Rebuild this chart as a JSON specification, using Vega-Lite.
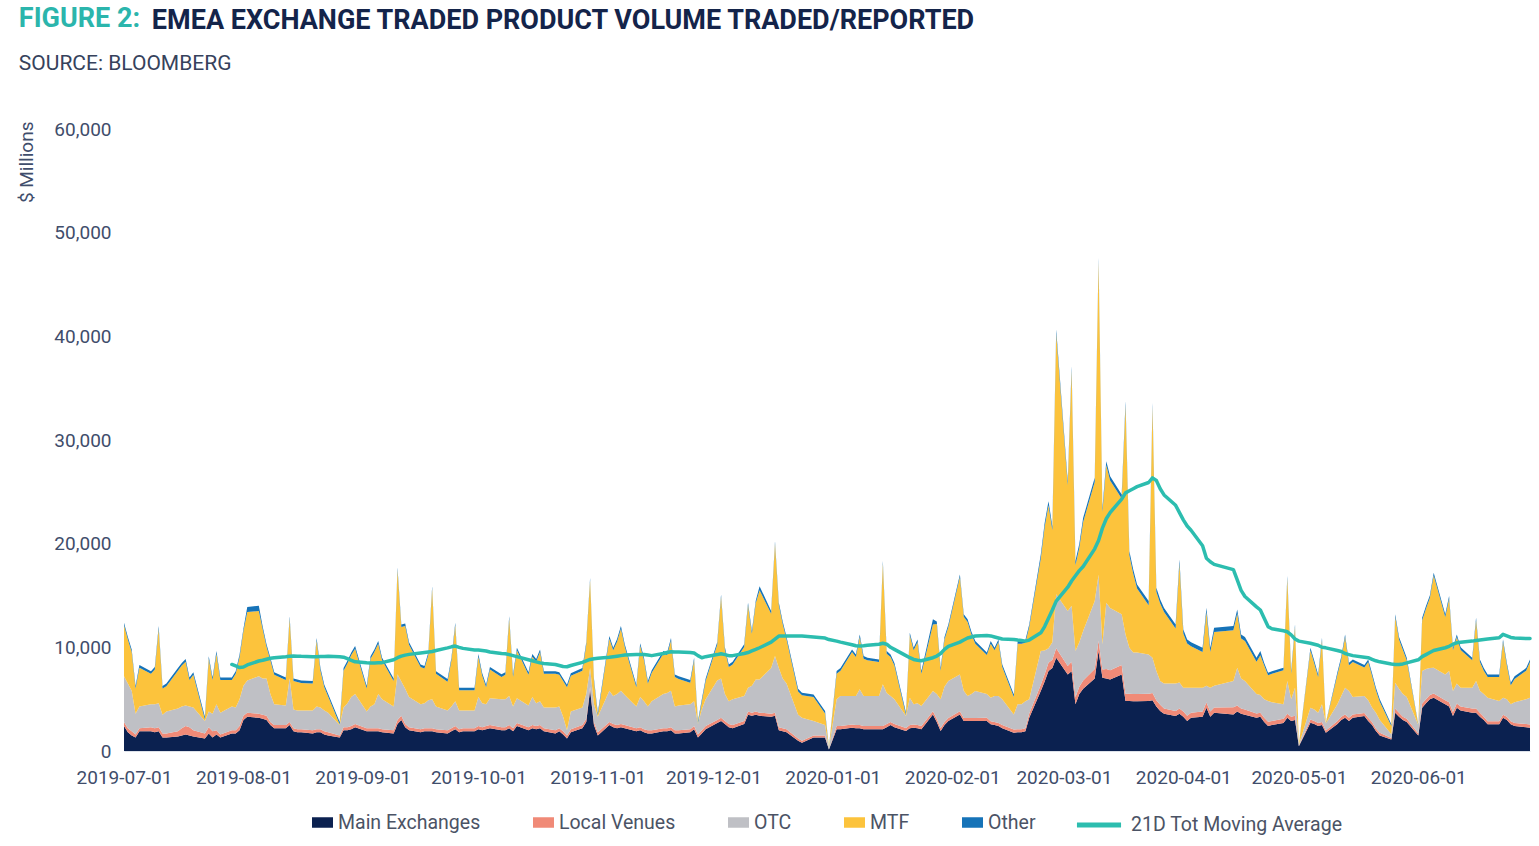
{
  "$schema": "https://vega.github.io/schema/vega-lite/v6.json",
  "autosize": {"type": "pad"},
  "padding": {"left": 17, "top": 5, "right": 5, "bottom": 5},
  "background": "white",
  "title": {
    "text": "FIGURE 2:",
    "subtitle": "SOURCE: BLOOMBERG",
    "anchor": "start",
    "frame": "bounds",
    "font": "Roboto",
    "fontSize": 27,
    "fontWeight": "bold",
    "color": "#2bb5ac",
    "subtitleFont": "Roboto",
    "subtitleFontSize": 21,
    "subtitleFontWeight": "normal",
    "subtitleColor": "#36425c",
    "subtitlePadding": 20,
    "offset": 10,
    "dx": 1,
    "dy": 78
  },
  "datasets": {
    "v": [
      {"d":"2019-07-01","s1":2400,"s2":400,"s3":4400,"s4":4920,"s5":250},
      {"d":"2019-07-02","s1":1800,"s2":400,"s3":4300,"s4":4250,"s5":250},
      {"d":"2019-07-03","s1":1500,"s2":400,"s3":3900,"s4":3750,"s5":250},
      {"d":"2019-07-04","s1":1300,"s2":300,"s3":2000,"s4":2420,"s5":250},
      {"d":"2019-07-05","s1":1900,"s2":300,"s3":2100,"s4":3740,"s5":250},
      {"d":"2019-07-08","s1":1900,"s2":400,"s3":2200,"s4":2950,"s5":250},
      {"d":"2019-07-09","s1":1800,"s2":400,"s3":2300,"s4":3350,"s5":250},
      {"d":"2019-07-10","s1":1900,"s2":400,"s3":2300,"s4":7200,"s5":250},
      {"d":"2019-07-11","s1":1300,"s2":400,"s3":1800,"s4":2520,"s5":250},
      {"d":"2019-07-12","s1":1300,"s2":400,"s3":2100,"s4":2450,"s5":250},
      {"d":"2019-07-15","s1":1400,"s2":500,"s3":2200,"s4":3650,"s5":250},
      {"d":"2019-07-16","s1":1500,"s2":700,"s3":2100,"s4":3950,"s5":250},
      {"d":"2019-07-17","s1":1600,"s2":800,"s3":2000,"s4":4220,"s5":250},
      {"d":"2019-07-18","s1":1500,"s2":800,"s3":2000,"s4":2550,"s5":250},
      {"d":"2019-07-19","s1":1400,"s2":600,"s3":2200,"s4":3150,"s5":250},
      {"d":"2019-07-22","s1":1200,"s2":500,"s3":1200,"s4":150,"s5":250},
      {"d":"2019-07-23","s1":1700,"s2":600,"s3":1500,"s4":5100,"s5":250},
      {"d":"2019-07-24","s1":1300,"s2":600,"s3":1700,"s4":3250,"s5":250},
      {"d":"2019-07-25","s1":1600,"s2":400,"s3":2500,"s4":4890,"s5":250},
      {"d":"2019-07-26","s1":1300,"s2":300,"s3":2100,"s4":3150,"s5":250},
      {"d":"2019-07-29","s1":1700,"s2":300,"s3":2300,"s4":2550,"s5":250,"ma":8350},
      {"d":"2019-07-30","s1":1700,"s2":300,"s3":2200,"s4":3250,"s5":250,"ma":8200},
      {"d":"2019-07-31","s1":2000,"s2":400,"s3":2600,"s4":4050,"s5":250,"ma":8050},
      {"d":"2019-08-01","s1":3000,"s2":400,"s3":2900,"s4":5250,"s5":250,"ma":8100},
      {"d":"2019-08-02","s1":3300,"s2":400,"s3":3100,"s4":6600,"s5":500,"ma":8300},
      {"d":"2019-08-05","s1":3200,"s2":400,"s3":3600,"s4":6300,"s5":500,"ma":8680},
      {"d":"2019-08-06","s1":3100,"s2":400,"s3":3500,"s4":4750,"s5":250,"ma":8750},
      {"d":"2019-08-07","s1":3000,"s2":400,"s3":3600,"s4":3050,"s5":250,"ma":8850},
      {"d":"2019-08-08","s1":2500,"s2":300,"s3":2700,"s4":3250,"s5":250,"ma":8950},
      {"d":"2019-08-09","s1":2200,"s2":300,"s3":2000,"s4":2850,"s5":250,"ma":9000},
      {"d":"2019-08-12","s1":2200,"s2":300,"s3":1900,"s4":2450,"s5":250,"ma":9100},
      {"d":"2019-08-13","s1":2500,"s2":300,"s3":4200,"s4":5750,"s5":250,"ma":9150},
      {"d":"2019-08-14","s1":1900,"s2":300,"s3":1800,"s4":2750,"s5":250,"ma":9160},
      {"d":"2019-08-15","s1":1800,"s2":300,"s3":1800,"s4":2750,"s5":250,"ma":9150},
      {"d":"2019-08-16","s1":1800,"s2":300,"s3":1800,"s4":2650,"s5":250,"ma":9130},
      {"d":"2019-08-19","s1":1700,"s2":300,"s3":1900,"s4":2600,"s5":250,"ma":9100},
      {"d":"2019-08-20","s1":1800,"s2":300,"s3":2200,"s4":6350,"s5":250,"ma":9100},
      {"d":"2019-08-21","s1":1800,"s2":300,"s3":2100,"s4":3550,"s5":250,"ma":9110},
      {"d":"2019-08-22","s1":1600,"s2":300,"s3":2000,"s4":2250,"s5":250,"ma":9120},
      {"d":"2019-08-23","s1":1500,"s2":300,"s3":1900,"s4":1550,"s5":250,"ma":9130},
      {"d":"2019-08-26","s1":1300,"s2":200,"s3":1000,"s4":50,"s5":250,"ma":9100},
      {"d":"2019-08-27","s1":2000,"s2":300,"s3":1900,"s4":3550,"s5":250,"ma":9050},
      {"d":"2019-08-28","s1":2000,"s2":300,"s3":2300,"s4":3850,"s5":250,"ma":8900},
      {"d":"2019-08-29","s1":2100,"s2":300,"s3":2800,"s4":4050,"s5":250,"ma":8750},
      {"d":"2019-08-30","s1":2300,"s2":300,"s3":2900,"s4":4370,"s5":250,"ma":8600},
      {"d":"2019-09-02","s1":1900,"s2":300,"s3":1600,"s4":2220,"s5":250,"ma":8510},
      {"d":"2019-09-03","s1":1900,"s2":300,"s3":2100,"s4":4600,"s5":250,"ma":8500},
      {"d":"2019-09-04","s1":1900,"s2":300,"s3":2300,"s4":5050,"s5":250,"ma":8500},
      {"d":"2019-09-05","s1":1900,"s2":300,"s3":3300,"s4":4850,"s5":250,"ma":8510},
      {"d":"2019-09-06","s1":1800,"s2":300,"s3":2900,"s4":3750,"s5":250,"ma":8520},
      {"d":"2019-09-09","s1":1700,"s2":300,"s3":2300,"s4":2450,"s5":250,"ma":8800},
      {"d":"2019-09-10","s1":2600,"s2":400,"s3":4400,"s4":10050,"s5":250,"ma":9000},
      {"d":"2019-09-11","s1":3000,"s2":400,"s3":3300,"s4":5250,"s5":250,"ma":9150},
      {"d":"2019-09-12","s1":2300,"s2":300,"s3":3400,"s4":6050,"s5":250,"ma":9250},
      {"d":"2019-09-13","s1":2000,"s2":300,"s3":2900,"s4":5050,"s5":250,"ma":9320},
      {"d":"2019-09-16","s1":1800,"s2":300,"s3":2400,"s4":3600,"s5":250,"ma":9450},
      {"d":"2019-09-17","s1":1900,"s2":300,"s3":2400,"s4":3350,"s5":250,"ma":9500},
      {"d":"2019-09-18","s1":1900,"s2":300,"s3":2700,"s4":4350,"s5":250,"ma":9550},
      {"d":"2019-09-19","s1":1900,"s2":300,"s3":2800,"s4":10650,"s5":250,"ma":9600},
      {"d":"2019-09-20","s1":1800,"s2":300,"s3":2200,"s4":3150,"s5":250,"ma":9700},
      {"d":"2019-09-23","s1":1700,"s2":300,"s3":1900,"s4":2790,"s5":250,"ma":9950},
      {"d":"2019-09-24","s1":1900,"s2":300,"s3":2100,"s4":4450,"s5":250,"ma":10050},
      {"d":"2019-09-25","s1":2100,"s2":300,"s3":2400,"s4":7320,"s5":250,"ma":10120},
      {"d":"2019-09-26","s1":1800,"s2":300,"s3":1800,"s4":1950,"s5":250,"ma":10000},
      {"d":"2019-09-27","s1":1900,"s2":300,"s3":1700,"s4":1950,"s5":250,"ma":9900},
      {"d":"2019-09-30","s1":1900,"s2":300,"s3":1700,"s4":1950,"s5":250,"ma":9750},
      {"d":"2019-10-01","s1":2100,"s2":300,"s3":2800,"s4":3900,"s5":250,"ma":9750},
      {"d":"2019-10-02","s1":2000,"s2":300,"s3":2300,"s4":2650,"s5":250,"ma":9700},
      {"d":"2019-10-03","s1":2100,"s2":300,"s3":2100,"s4":1650,"s5":250,"ma":9650},
      {"d":"2019-10-04","s1":2200,"s2":300,"s3":2600,"s4":2750,"s5":250,"ma":9550},
      {"d":"2019-10-07","s1":2000,"s2":300,"s3":2700,"s4":2150,"s5":250,"ma":9400},
      {"d":"2019-10-08","s1":2000,"s2":300,"s3":2700,"s4":2350,"s5":250,"ma":9380},
      {"d":"2019-10-09","s1":2200,"s2":300,"s3":2800,"s4":7450,"s5":250,"ma":9300},
      {"d":"2019-10-10","s1":1900,"s2":300,"s3":2100,"s4":2850,"s5":250,"ma":9200},
      {"d":"2019-10-11","s1":2400,"s2":300,"s3":2400,"s4":4610,"s5":250,"ma":9100},
      {"d":"2019-10-14","s1":2000,"s2":300,"s3":2100,"s4":2950,"s5":250,"ma":8800},
      {"d":"2019-10-15","s1":2200,"s2":300,"s3":2700,"s4":3900,"s5":250,"ma":8700},
      {"d":"2019-10-16","s1":2100,"s2":300,"s3":2200,"s4":4020,"s5":250,"ma":8600},
      {"d":"2019-10-17","s1":2200,"s2":300,"s3":2300,"s4":4750,"s5":250,"ma":8500},
      {"d":"2019-10-18","s1":1900,"s2":300,"s3":2000,"s4":3250,"s5":250,"ma":8450},
      {"d":"2019-10-21","s1":1700,"s2":300,"s3":2200,"s4":3250,"s5":250,"ma":8350},
      {"d":"2019-10-22","s1":1900,"s2":300,"s3":2100,"s4":3050,"s5":250,"ma":8250},
      {"d":"2019-10-23","s1":1600,"s2":300,"s3":1400,"s4":3450,"s5":250,"ma":8150},
      {"d":"2019-10-24","s1":1200,"s2":300,"s3":500,"s4":4150,"s5":250,"ma":8130},
      {"d":"2019-10-25","s1":1800,"s2":300,"s3":1700,"s4":3450,"s5":250,"ma":8250},
      {"d":"2019-10-28","s1":2200,"s2":300,"s3":1700,"s4":3550,"s5":250,"ma":8550},
      {"d":"2019-10-29","s1":2800,"s2":300,"s3":2400,"s4":4750,"s5":250,"ma":8700},
      {"d":"2019-10-30","s1":5900,"s2":300,"s3":1800,"s4":8450,"s5":250,"ma":8830},
      {"d":"2019-10-31","s1":2500,"s2":300,"s3":1700,"s4":2250,"s5":250,"ma":8900},
      {"d":"2019-11-01","s1":1500,"s2":300,"s3":1500,"s4":150,"s5":250,"ma":8950},
      {"d":"2019-11-04","s1":2500,"s2":300,"s3":3000,"s4":5040,"s5":250,"ma":9050},
      {"d":"2019-11-05","s1":2300,"s2":300,"s3":2700,"s4":4410,"s5":250,"ma":9100},
      {"d":"2019-11-06","s1":2200,"s2":300,"s3":3000,"s4":5050,"s5":250,"ma":9150},
      {"d":"2019-11-07","s1":2300,"s2":300,"s3":3200,"s4":6000,"s5":250,"ma":9200},
      {"d":"2019-11-08","s1":2200,"s2":300,"s3":2900,"s4":4650,"s5":250,"ma":9250},
      {"d":"2019-11-11","s1":1900,"s2":300,"s3":2100,"s4":1850,"s5":250,"ma":9300},
      {"d":"2019-11-12","s1":2000,"s2":300,"s3":2900,"s4":4950,"s5":250,"ma":9320},
      {"d":"2019-11-13","s1":1800,"s2":300,"s3":2700,"s4":3950,"s5":250,"ma":9300},
      {"d":"2019-11-14","s1":1700,"s2":300,"s3":2300,"s4":2200,"s5":250,"ma":9250},
      {"d":"2019-11-15","s1":1700,"s2":300,"s3":2800,"s4":2750,"s5":250,"ma":9200},
      {"d":"2019-11-18","s1":1900,"s2":300,"s3":3300,"s4":3890,"s5":250,"ma":9400},
      {"d":"2019-11-19","s1":1900,"s2":300,"s3":3400,"s4":3650,"s5":250,"ma":9500},
      {"d":"2019-11-20","s1":2000,"s2":300,"s3":3500,"s4":4850,"s5":250,"ma":9570},
      {"d":"2019-11-21","s1":1700,"s2":300,"s3":2300,"s4":2840,"s5":250,"ma":9550},
      {"d":"2019-11-22","s1":1700,"s2":300,"s3":2400,"s4":2550,"s5":250,"ma":9550},
      {"d":"2019-11-25","s1":1800,"s2":300,"s3":2400,"s4":2090,"s5":250,"ma":9500},
      {"d":"2019-11-26","s1":2100,"s2":300,"s3":2400,"s4":3950,"s5":250,"ma":9450},
      {"d":"2019-11-27","s1":1300,"s2":300,"s3":1000,"s4":50,"s5":250,"ma":9200},
      {"d":"2019-11-28","s1":1700,"s2":300,"s3":2000,"s4":750,"s5":250,"ma":9000},
      {"d":"2019-11-29","s1":2100,"s2":300,"s3":2600,"s4":1750,"s5":250,"ma":9100},
      {"d":"2019-12-02","s1":2700,"s2":300,"s3":3800,"s4":3450,"s5":250,"ma":9300},
      {"d":"2019-12-03","s1":2900,"s2":300,"s3":3800,"s4":7850,"s5":250,"ma":9380},
      {"d":"2019-12-04","s1":2600,"s2":300,"s3":2600,"s4":4250,"s5":250,"ma":9300},
      {"d":"2019-12-05","s1":2300,"s2":300,"s3":2200,"s4":3300,"s5":250,"ma":9200},
      {"d":"2019-12-06","s1":2200,"s2":300,"s3":2500,"s4":3350,"s5":250,"ma":9200},
      {"d":"2019-12-09","s1":2600,"s2":300,"s3":2400,"s4":4740,"s5":250,"ma":9400},
      {"d":"2019-12-10","s1":3500,"s2":300,"s3":2300,"s4":7950,"s5":250,"ma":9500},
      {"d":"2019-12-11","s1":3400,"s2":300,"s3":2600,"s4":5020,"s5":250,"ma":9650},
      {"d":"2019-12-12","s1":3500,"s2":300,"s3":3100,"s4":7350,"s5":250,"ma":9800},
      {"d":"2019-12-13","s1":3400,"s2":300,"s3":3200,"s4":8600,"s5":400,"ma":9960},
      {"d":"2019-12-16","s1":3300,"s2":300,"s3":4400,"s4":5250,"s5":250,"ma":10500},
      {"d":"2019-12-17","s1":3400,"s2":300,"s3":5460,"s4":10830,"s5":250,"ma":10800},
      {"d":"2019-12-18","s1":2000,"s2":300,"s3":5700,"s4":6050,"s5":250,"ma":11090},
      {"d":"2019-12-19","s1":1900,"s2":300,"s3":4800,"s4":5250,"s5":250,"ma":11090},
      {"d":"2019-12-20","s1":1800,"s2":300,"s3":4400,"s4":4250,"s5":250,"ma":11100},
      {"d":"2019-12-23","s1":1000,"s2":200,"s3":2300,"s4":2250,"s5":250,"ma":11100},
      {"d":"2019-12-24","s1":800,"s2":200,"s3":2200,"s4":2170,"s5":250,"ma":11090},
      {"d":"2019-12-27","s1":1300,"s2":200,"s3":1400,"s4":2310,"s5":250,"ma":11000},
      {"d":"2019-12-30","s1":1300,"s2":200,"s3":1000,"s4":1110,"s5":250,"ma":10900},
      {"d":"2019-12-31","s1":150,"s2":20,"s3":150,"s4":30,"s5":50,"ma":10750},
      {"d":"2020-01-02","s1":2100,"s2":300,"s3":2600,"s4":2460,"s5":250,"ma":10600},
      {"d":"2020-01-03","s1":2100,"s2":300,"s3":2900,"s4":2450,"s5":250,"ma":10500},
      {"d":"2020-01-06","s1":2250,"s2":300,"s3":2750,"s4":4250,"s5":250,"ma":10250},
      {"d":"2020-01-07","s1":2200,"s2":300,"s3":2800,"s4":3770,"s5":250,"ma":10150},
      {"d":"2020-01-08","s1":2200,"s2":300,"s3":3460,"s4":5040,"s5":250,"ma":10120},
      {"d":"2020-01-09","s1":2100,"s2":300,"s3":2900,"s4":3610,"s5":250,"ma":10150},
      {"d":"2020-01-10","s1":2100,"s2":300,"s3":2900,"s4":3450,"s5":250,"ma":10200},
      {"d":"2020-01-13","s1":2100,"s2":300,"s3":2900,"s4":3280,"s5":250,"ma":10300},
      {"d":"2020-01-14","s1":2100,"s2":300,"s3":4050,"s4":11620,"s5":250,"ma":10400},
      {"d":"2020-01-15","s1":2300,"s2":300,"s3":3000,"s4":3790,"s5":250,"ma":10300},
      {"d":"2020-01-16","s1":2500,"s2":300,"s3":2500,"s4":3770,"s5":250,"ma":10000},
      {"d":"2020-01-17","s1":2300,"s2":300,"s3":2400,"s4":3250,"s5":250,"ma":9800},
      {"d":"2020-01-20","s1":1930,"s2":300,"s3":1140,"s4":100,"s5":250,"ma":9200},
      {"d":"2020-01-21","s1":2200,"s2":300,"s3":2640,"s4":6020,"s5":250,"ma":9000},
      {"d":"2020-01-22","s1":2250,"s2":300,"s3":1950,"s4":5210,"s5":250,"ma":8830},
      {"d":"2020-01-23","s1":2200,"s2":300,"s3":2100,"s4":5910,"s5":250,"ma":8750},
      {"d":"2020-01-24","s1":2100,"s2":300,"s3":1940,"s4":3120,"s5":250,"ma":8700},
      {"d":"2020-01-27","s1":3530,"s2":300,"s3":1950,"s4":6420,"s5":500,"ma":9000},
      {"d":"2020-01-28","s1":2800,"s2":300,"s3":2400,"s4":6750,"s5":250,"ma":9160},
      {"d":"2020-01-29","s1":1930,"s2":300,"s3":2770,"s4":2750,"s5":250,"ma":9400},
      {"d":"2020-01-30","s1":2500,"s2":300,"s3":3400,"s4":4550,"s5":250,"ma":9800},
      {"d":"2020-01-31","s1":2890,"s2":300,"s3":3560,"s4":5210,"s5":250,"ma":10100},
      {"d":"2020-02-03","s1":3530,"s2":300,"s3":3560,"s4":9390,"s5":250,"ma":10500},
      {"d":"2020-02-04","s1":2890,"s2":300,"s3":2610,"s4":7150,"s5":250,"ma":10700},
      {"d":"2020-02-05","s1":2890,"s2":300,"s3":2110,"s4":7150,"s5":250,"ma":10900},
      {"d":"2020-02-06","s1":2890,"s2":300,"s3":2310,"s4":5750,"s5":250,"ma":11000},
      {"d":"2020-02-07","s1":2890,"s2":300,"s3":2590,"s4":4570,"s5":250,"ma":11090},
      {"d":"2020-02-10","s1":2900,"s2":300,"s3":2300,"s4":3750,"s5":250,"ma":11150},
      {"d":"2020-02-11","s1":2570,"s2":300,"s3":2270,"s4":5210,"s5":250,"ma":11100},
      {"d":"2020-02-12","s1":2500,"s2":300,"s3":2500,"s4":4410,"s5":250,"ma":11000},
      {"d":"2020-02-13","s1":2400,"s2":300,"s3":2600,"s4":5210,"s5":250,"ma":10900},
      {"d":"2020-02-14","s1":2200,"s2":300,"s3":2500,"s4":3100,"s5":250,"ma":10800},
      {"d":"2020-02-17","s1":1770,"s2":300,"s3":1460,"s4":1680,"s5":250,"ma":10760},
      {"d":"2020-02-18","s1":1800,"s2":300,"s3":2400,"s4":5850,"s5":250,"ma":10700},
      {"d":"2020-02-19","s1":1800,"s2":300,"s3":2400,"s4":5850,"s5":250,"ma":10650},
      {"d":"2020-02-20","s1":1900,"s2":300,"s3":2600,"s4":5650,"s5":250,"ma":10600},
      {"d":"2020-02-21","s1":3210,"s2":400,"s3":1390,"s4":6960,"s5":250,"ma":10700},
      {"d":"2020-02-24","s1":5780,"s2":600,"s3":3260,"s4":8920,"s5":400,"ma":11400},
      {"d":"2020-02-25","s1":6700,"s2":700,"s3":2300,"s4":11900,"s5":400,"ma":12000},
      {"d":"2020-02-26","s1":7710,"s2":800,"s3":1390,"s4":13800,"s5":400,"ma":12800},
      {"d":"2020-02-27","s1":8000,"s2":800,"s3":1700,"s4":10790,"s5":400,"ma":13600},
      {"d":"2020-02-28","s1":9000,"s2":900,"s3":5210,"s4":25140,"s5":400,"ma":14460},
      {"d":"2020-03-02","s1":7390,"s2":800,"s3":5310,"s4":12130,"s5":400,"ma":15800},
      {"d":"2020-03-03","s1":7700,"s2":900,"s3":5400,"s4":22710,"s5":400,"ma":16400},
      {"d":"2020-03-04","s1":4500,"s2":700,"s3":4440,"s4":8280,"s5":400,"ma":16900},
      {"d":"2020-03-05","s1":5500,"s2":700,"s3":4300,"s4":9100,"s5":400,"ma":17400},
      {"d":"2020-03-06","s1":6000,"s2":800,"s3":4770,"s4":10520,"s5":400,"ma":17800},
      {"d":"2020-03-09","s1":7000,"s2":900,"s3":6560,"s4":11490,"s5":400,"ma":19500},
      {"d":"2020-03-10","s1":9640,"s2":1000,"s3":6360,"s4":30160,"s5":400,"ma":20300},
      {"d":"2020-03-11","s1":7070,"s2":800,"s3":2430,"s4":12750,"s5":400,"ma":21500},
      {"d":"2020-03-12","s1":7000,"s2":900,"s3":6400,"s4":13260,"s5":400,"ma":22400},
      {"d":"2020-03-13","s1":6900,"s2":900,"s3":6000,"s4":12300,"s5":400,"ma":23000},
      {"d":"2020-03-16","s1":7390,"s2":900,"s3":4910,"s4":11150,"s5":400,"ma":24300},
      {"d":"2020-03-17","s1":4820,"s2":700,"s3":5730,"s4":22090,"s5":400,"ma":24900},
      {"d":"2020-03-18","s1":4820,"s2":700,"s3":4440,"s4":8920,"s5":400,"ma":25100},
      {"d":"2020-03-19","s1":4800,"s2":700,"s3":4000,"s4":7600,"s5":400,"ma":25300},
      {"d":"2020-03-20","s1":4800,"s2":700,"s3":4000,"s4":6170,"s5":400,"ma":25500},
      {"d":"2020-03-23","s1":4820,"s2":700,"s3":3800,"s4":4740,"s5":400,"ma":25900},
      {"d":"2020-03-24","s1":4900,"s2":700,"s3":3400,"s4":24180,"s5":400,"ma":26350},
      {"d":"2020-03-25","s1":4300,"s2":600,"s3":2810,"s4":7640,"s5":400,"ma":26100},
      {"d":"2020-03-26","s1":3860,"s2":600,"s3":2290,"s4":7470,"s5":400,"ma":25300},
      {"d":"2020-03-27","s1":3600,"s2":500,"s3":2400,"s4":6900,"s5":400,"ma":24700},
      {"d":"2020-03-30","s1":3370,"s2":500,"s3":2630,"s4":5310,"s5":400,"ma":23700},
      {"d":"2020-03-31","s1":3600,"s2":500,"s3":2500,"s4":11480,"s5":400,"ma":23000},
      {"d":"2020-04-01","s1":3300,"s2":500,"s3":2300,"s4":5230,"s5":400,"ma":22300},
      {"d":"2020-04-02","s1":2890,"s2":500,"s3":2710,"s4":4260,"s5":400,"ma":21700},
      {"d":"2020-04-03","s1":3200,"s2":500,"s3":2400,"s4":4000,"s5":400,"ma":21300},
      {"d":"2020-04-06","s1":3300,"s2":500,"s3":2300,"s4":3460,"s5":400,"ma":19800},
      {"d":"2020-04-07","s1":4180,"s2":500,"s3":1620,"s4":7110,"s5":400,"ma":18600},
      {"d":"2020-04-08","s1":3300,"s2":500,"s3":2300,"s4":3460,"s5":400,"ma":18250},
      {"d":"2020-04-09","s1":3700,"s2":500,"s3":2100,"s4":5190,"s5":400,"ma":18000},
      {"d":"2020-04-14","s1":3530,"s2":700,"s3":2520,"s4":4900,"s5":400,"ma":17500},
      {"d":"2020-04-15","s1":3800,"s2":600,"s3":3630,"s4":5230,"s5":400,"ma":16500},
      {"d":"2020-04-16","s1":3600,"s2":500,"s3":2900,"s4":3850,"s5":400,"ma":15500},
      {"d":"2020-04-17","s1":3500,"s2":500,"s3":2750,"s4":3850,"s5":400,"ma":14900},
      {"d":"2020-04-20","s1":3210,"s2":400,"s3":1890,"s4":3100,"s5":400,"ma":13900},
      {"d":"2020-04-21","s1":3300,"s2":400,"s3":1700,"s4":3840,"s5":400,"ma":13600},
      {"d":"2020-04-22","s1":2800,"s2":400,"s3":1800,"s4":3250,"s5":250,"ma":12800},
      {"d":"2020-04-23","s1":2410,"s2":400,"s3":2010,"s4":2480,"s5":250,"ma":12000},
      {"d":"2020-04-24","s1":2500,"s2":400,"s3":1800,"s4":2750,"s5":250,"ma":11800},
      {"d":"2020-04-27","s1":2700,"s2":400,"s3":1400,"s4":3280,"s5":250,"ma":11600},
      {"d":"2020-04-28","s1":3200,"s2":400,"s3":3150,"s4":9870,"s5":250,"ma":11500},
      {"d":"2020-04-29","s1":2900,"s2":400,"s3":1700,"s4":2460,"s5":250,"ma":11200},
      {"d":"2020-04-30","s1":3000,"s2":400,"s3":2700,"s4":5860,"s5":250,"ma":10800},
      {"d":"2020-05-01","s1":450,"s2":50,"s3":100,"s4":20,"s5":20,"ma":10600},
      {"d":"2020-05-04","s1":2730,"s2":300,"s3":1150,"s4":5530,"s5":250,"ma":10400},
      {"d":"2020-05-05","s1":2600,"s2":300,"s3":1100,"s4":4450,"s5":250,"ma":10300},
      {"d":"2020-05-06","s1":2400,"s2":300,"s3":1000,"s4":3440,"s5":250,"ma":10200},
      {"d":"2020-05-07","s1":2500,"s2":300,"s3":1700,"s4":6170,"s5":250,"ma":10000},
      {"d":"2020-05-08","s1":1770,"s2":200,"s3":680,"s4":30,"s5":50,"ma":9950},
      {"d":"2020-05-11","s1":2600,"s2":300,"s3":1600,"s4":2850,"s5":250,"ma":9700},
      {"d":"2020-05-12","s1":3000,"s2":300,"s3":2000,"s4":3550,"s5":250,"ma":9600},
      {"d":"2020-05-13","s1":3210,"s2":300,"s3":2590,"s4":4900,"s5":250,"ma":9400},
      {"d":"2020-05-14","s1":2900,"s2":300,"s3":2580,"s4":2480,"s5":250,"ma":9300},
      {"d":"2020-05-15","s1":3210,"s2":300,"s3":1690,"s4":3380,"s5":250,"ma":9200},
      {"d":"2020-05-18","s1":3370,"s2":300,"s3":1630,"s4":2750,"s5":250,"ma":9050},
      {"d":"2020-05-19","s1":2900,"s2":300,"s3":1700,"s4":3680,"s5":250,"ma":9000},
      {"d":"2020-05-20","s1":2500,"s2":300,"s3":1400,"s4":3050,"s5":250,"ma":8850},
      {"d":"2020-05-21","s1":1930,"s2":250,"s3":1520,"s4":2150,"s5":250,"ma":8700},
      {"d":"2020-05-22","s1":1500,"s2":250,"s3":1250,"s4":1750,"s5":250,"ma":8600},
      {"d":"2020-05-25","s1":1100,"s2":150,"s3":360,"s4":810,"s5":150,"ma":8400},
      {"d":"2020-05-26","s1":3700,"s2":400,"s3":2490,"s4":6340,"s5":250,"ma":8350},
      {"d":"2020-05-27","s1":3300,"s2":400,"s3":2300,"s4":4750,"s5":250,"ma":8350},
      {"d":"2020-05-28","s1":3000,"s2":300,"s3":2200,"s4":4250,"s5":250,"ma":8400},
      {"d":"2020-05-29","s1":2800,"s2":300,"s3":2100,"s4":3550,"s5":250,"ma":8500},
      {"d":"2020-06-01","s1":1500,"s2":200,"s3":800,"s4":20,"s5":50,"ma":8800},
      {"d":"2020-06-02","s1":4180,"s2":400,"s3":3130,"s4":4890,"s5":250,"ma":9100},
      {"d":"2020-06-03","s1":4600,"s2":400,"s3":2900,"s4":5830,"s5":250,"ma":9300},
      {"d":"2020-06-04","s1":5000,"s2":400,"s3":2600,"s4":6750,"s5":250,"ma":9500},
      {"d":"2020-06-05","s1":5140,"s2":400,"s3":2490,"s4":8910,"s5":250,"ma":9700},
      {"d":"2020-06-08","s1":4500,"s2":400,"s3":2490,"s4":5540,"s5":250,"ma":9960},
      {"d":"2020-06-09","s1":4300,"s2":400,"s3":3010,"s4":6980,"s5":250,"ma":10100},
      {"d":"2020-06-10","s1":3370,"s2":400,"s3":2010,"s4":3930,"s5":250,"ma":10300},
      {"d":"2020-06-11","s1":4180,"s2":400,"s3":1920,"s4":4500,"s5":250,"ma":10440},
      {"d":"2020-06-12","s1":3900,"s2":400,"s3":1800,"s4":3650,"s5":250,"ma":10500},
      {"d":"2020-06-15","s1":3700,"s2":400,"s3":2000,"s4":2650,"s5":250,"ma":10600},
      {"d":"2020-06-16","s1":3700,"s2":400,"s3":2650,"s4":5850,"s5":250,"ma":10650},
      {"d":"2020-06-17","s1":3300,"s2":400,"s3":2100,"s4":2780,"s5":250,"ma":10700},
      {"d":"2020-06-18","s1":3000,"s2":300,"s3":2200,"s4":2250,"s5":250,"ma":10750},
      {"d":"2020-06-19","s1":2570,"s2":300,"s3":2270,"s4":2000,"s5":250,"ma":10800},
      {"d":"2020-06-22","s1":2570,"s2":300,"s3":1950,"s4":2320,"s5":250,"ma":10920},
      {"d":"2020-06-23","s1":3200,"s2":300,"s3":1640,"s4":5370,"s5":250,"ma":11250},
      {"d":"2020-06-24","s1":3000,"s2":300,"s3":1700,"s4":3250,"s5":250,"ma":11100},
      {"d":"2020-06-25","s1":2570,"s2":300,"s3":1630,"s4":1840,"s5":250,"ma":10950},
      {"d":"2020-06-26","s1":2400,"s2":300,"s3":2000,"s4":2250,"s5":250,"ma":10900},
      {"d":"2020-06-29","s1":2300,"s2":300,"s3":2400,"s4":2750,"s5":250,"ma":10850},
      {"d":"2020-06-30","s1":2250,"s2":300,"s3":2590,"s4":3440,"s5":250,"ma":10860}
    ]
  },
  "vconcat": [
    {
      "title": {
        "text": "EMEA EXCHANGE TRADED PRODUCT VOLUME TRADED/REPORTED",
        "anchor": "start",
        "frame": "bounds",
        "font": "Roboto",
        "fontSize": 27,
        "fontWeight": "bold",
        "color": "#14244a",
        "dx": 134,
        "offset": 85
      },
      "width": 1406,
      "height": 622,
      "data": {"name": "v"},
      "layer": [
        {
          "transform": [{"fold": ["s1", "s2", "s3", "s4", "s5"], "as": ["k", "val"]}],
          "mark": {"type": "area", "interpolate": "linear"},
          "encoding": {
            "x": {
              "field": "d",
              "type": "temporal",
              "scale": {
                "type": "utc",
                "domain": [
                  {"year": 2019, "month": 7, "date": 1, "utc": true},
                  {"year": 2020, "month": 6, "date": 30, "utc": true}
                ]
              },
              "axis": {
                "title": null,
                "format": "%Y-%m-%d",
                "values": [
                  {"year": 2019, "month": 7, "date": 1, "utc": true},
                  {"year": 2019, "month": 8, "date": 1, "utc": true},
                  {"year": 2019, "month": 9, "date": 1, "utc": true},
                  {"year": 2019, "month": 10, "date": 1, "utc": true},
                  {"year": 2019, "month": 11, "date": 1, "utc": true},
                  {"year": 2019, "month": 12, "date": 1, "utc": true},
                  {"year": 2020, "month": 1, "date": 1, "utc": true},
                  {"year": 2020, "month": 2, "date": 1, "utc": true},
                  {"year": 2020, "month": 3, "date": 1, "utc": true},
                  {"year": 2020, "month": 4, "date": 1, "utc": true},
                  {"year": 2020, "month": 5, "date": 1, "utc": true},
                  {"year": 2020, "month": 6, "date": 1, "utc": true}
                ],
                "labelFontSize": 19,
                "labelColor": "#3f4d6b",
                "labelPadding": 17,
                "labelFlush": false,
                "labelOverlap": false,
                "ticks": false,
                "grid": false,
                "domain": true,
                "domainColor": "#dde2ea",
                "domainWidth": 1
              }
            },
            "y": {
              "field": "val",
              "type": "quantitative",
              "stack": "zero",
              "scale": {"domain": [0, 60000], "nice": false},
              "axis": {
                "title": "$ Millions",
                "titleAnchor": "end",
                "titleY": -8,
                "titleFontSize": 19,
                "titleFontWeight": "normal",
                "titleColor": "#3f4d6b",
                "titlePadding": 17,
                "values": [0, 10000, 20000, 30000, 40000, 50000, 60000],
                "format": ",.0f",
                "labelFontSize": 19,
                "labelColor": "#3f4d6b",
                "labelPadding": 13,
                "ticks": false,
                "domain": false,
                "grid": false
              }
            },
            "color": {
              "field": "k",
              "type": "nominal",
              "scale": {
                "domain": ["s1", "s2", "s3", "s4", "s5"],
                "range": ["#0b2150", "#f08a77", "#bfc0c5", "#fcc33c", "#1673b8"]
              },
              "legend": {
                "title": null,
                "orient": "bottom",
                "direction": "horizontal",
                "labelExpr": "datum.label == 's1' ? 'Main Exchanges' : datum.label == 's2' ? 'Local Venues' : datum.label == 's3' ? 'OTC' : datum.label == 's4' ? 'MTF' : 'Other'",
                "symbolType": "M-1,-0.5H1V0.5H-1Z",
                "symbolSize": 441,
                "symbolStrokeWidth": 0,
                "labelFontSize": 19.5,
                "labelColor": "#4b5365",
                "labelOffset": 5,
                "labelLimit": 300,
                "columnPadding": 52,
                "offset": 25
              }
            },
            "order": {"field": "k", "type": "ordinal", "sort": "ascending"}
          }
        },
        {
          "mark": {"type": "line", "strokeWidth": 3.5, "strokeCap": "round", "strokeJoin": "round"},
          "encoding": {
            "x": {"field": "d", "type": "temporal"},
            "y": {"field": "ma", "type": "quantitative"},
            "stroke": {
              "datum": "21D Tot Moving Average",
              "type": "nominal",
              "scale": {"range": ["#2cbdaf"]},
              "legend": {
                "title": null,
                "orient": "bottom",
                "direction": "horizontal",
                "symbolType": "M-2.1,0H2.1",
                "symbolSize": 441,
                "symbolStrokeWidth": 5,
                "labelFontSize": 19.5,
                "labelColor": "#4b5365",
                "labelOffset": 19,
                "labelLimit": 400,
                "offset": 23
              }
            }
          }
        }
      ]
    }
  ],
  "config": {
    "view": {"stroke": null},
    "font": "Roboto",
    "legend": {
      "layout": {"bottom": {"anchor": "middle", "direction": "horizontal", "margin": 50}}
    }
  }
}
